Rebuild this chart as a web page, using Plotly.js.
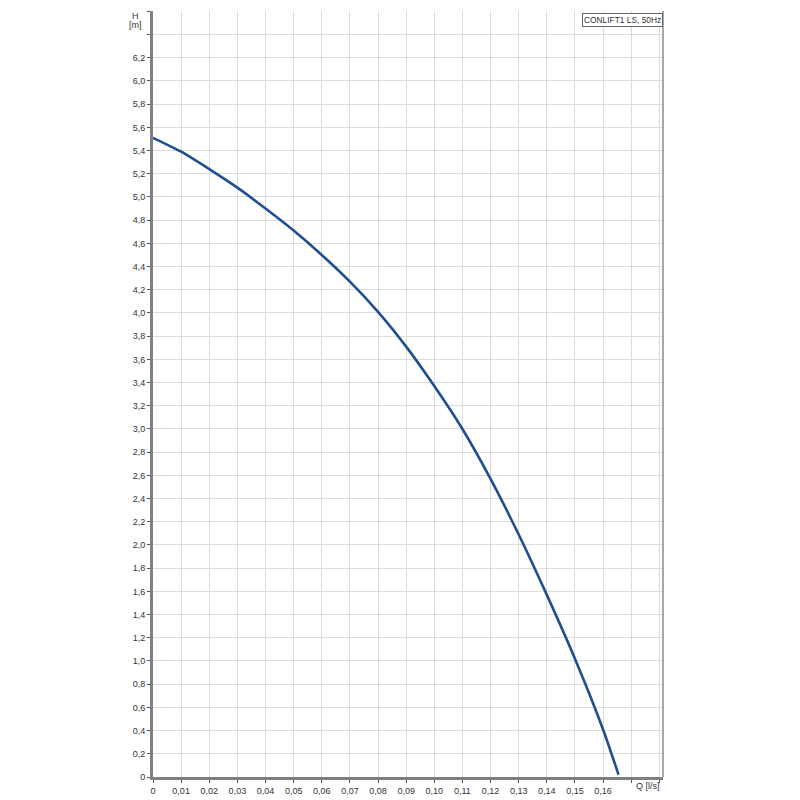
<!DOCTYPE html>
<html>
<head>
<meta charset="utf-8">
<script src="https://cdn.plot.ly/plotly-3.0.1.min.js"></script>
<style>
  html, body { margin: 0; padding: 0; background: #ffffff; }
  #chart { width: 800px; height: 800px; }
</style>
</head>
<body>
<div id="chart"></div>
<script>
// Q [l/s] and H [m]
const flowQ = [ 0, 0.01, 0.02, 0.03, 0.04, 0.05, 0.06, 0.07, 0.08, 0.09, 0.10, 0.11, 0.12, 0.13, 0.14, 0.15, 0.16, 0.1655 ];
const headH = [ 5.51, 5.39, 5.24, 5.08, 4.90, 4.71, 4.50, 4.27, 4.01, 3.71, 3.37, 3.00, 2.57, 2.09, 1.57, 1.02, 0.41, 0.02 ];

const xTickVals = [ 0, 0.01, 0.02, 0.03, 0.04, 0.05, 0.06, 0.07, 0.08, 0.09, 0.10, 0.11, 0.12, 0.13, 0.14, 0.15, 0.16, 0.17, 0.18 ];
const xTickText = [ '0', '0,01', '0,02', '0,03', '0,04', '0,05', '0,06', '0,07', '0,08', '0,09', '0,10', '0,11', '0,12', '0,13', '0,14', '0,15', '0,16', '', '' ];

const yTickVals = [ 0, 0.2, 0.4, 0.6, 0.8, 1.0, 1.2, 1.4, 1.6, 1.8, 2.0, 2.2, 2.4, 2.6, 2.8, 3.0, 3.2, 3.4, 3.6, 3.8, 4.0, 4.2, 4.4, 4.6, 4.8, 5.0, 5.2, 5.4, 5.6, 5.8, 6.0, 6.2, 6.4, 6.6 ];
const yTickText = [ '0', '0,2', '0,4', '0,6', '0,8', '1,0', '1,2', '1,4', '1,6', '1,8', '2,0', '2,2', '2,4', '2,6', '2,8', '3,0', '3,2', '3,4', '3,6', '3,8', '4,0', '4,2', '4,4', '4,6', '4,8', '5,0', '5,2', '5,4', '5,6', '5,8', '6,0', '6,2', '', '' ];

const curveName = 'CONLIFT1 LS, 50Hz';

let font = { family: 'Liberation Sans, Arial, sans-serif', size: 9, color: '#333333' };

let trace = {
    x: flowQ,
    y: headH,
    mode: 'lines',
    line: { color: '#1f4f8f', width: 2.6, shape: 'spline', smoothing: 0.6 },
    name: curveName,
    hoverinfo: 'none'
};

let layout = {
    width: 800,
    height: 800,
    margin: { l: 153, r: 137, t: 11, b: 23 },
    paper_bgcolor: '#ffffff',
    plot_bgcolor: '#ffffff',
    showlegend: false,
    font: font,
    xaxis: {
        range: [ 0, 0.1813 ],
        tickmode: 'array',
        tickvals: xTickVals,
        ticktext: xTickText,
        ticks: 'outside',
        ticklen: 3,
        tickcolor: '#555555',
        showgrid: true,
        gridcolor: '#dcdcdc',
        gridwidth: 1,
        zeroline: false,
        showline: true,
        linecolor: '#808080',
        linewidth: 3,
        tickfont: font
    },
    yaxis: {
        range: [ 0, 6.603 ],
        tickmode: 'array',
        tickvals: yTickVals,
        ticktext: yTickText,
        ticks: 'outside',
        ticklen: 3,
        tickcolor: '#555555',
        showgrid: true,
        gridcolor: '#dcdcdc',
        gridwidth: 1,
        zeroline: false,
        showline: true,
        linecolor: '#808080',
        linewidth: 3,
        tickfont: font
    },
    shapes: [
        { type: 'line', xref: 'paper', yref: 'paper', x0: 1, x1: 1, y0: 0, y1: 1,
          line: { color: '#8c8c8c', width: 1.5 } }
    ],
    annotations: [
        { text: 'H', xref: 'paper', yref: 'paper', x: -0.035, y: 0.994, xanchor: 'center', yanchor: 'middle',
          showarrow: false, font: font },
        { text: '[m]', xref: 'paper', yref: 'paper', x: -0.035, y: 0.982, xanchor: 'center', yanchor: 'middle',
          showarrow: false, font: font },
        { text: 'Q [l/s]', xref: 'paper', yref: 'paper', x: 0.971, y: -0.012, xanchor: 'center', yanchor: 'middle',
          showarrow: false, font: font },
        { text: curveName, xref: 'paper', yref: 'paper', x: 1, y: 0.998, xanchor: 'right', yanchor: 'top',
          showarrow: false, font: { family: font.family, size: 8.4, color: '#333333' },
          bgcolor: '#ffffff', bordercolor: '#666666', borderwidth: 1, borderpad: 1 }
    ]
};

Plotly.newPlot( 'chart', [ trace ], layout, { staticPlot: true, displayModeBar: false } );
</script>
</body>
</html>
